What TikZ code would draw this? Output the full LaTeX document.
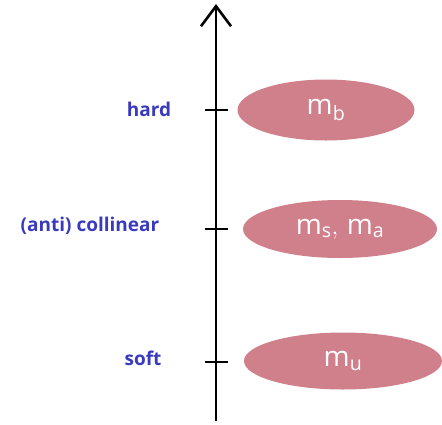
\documentclass[tikz,border=0pt]{standalone}
\usepackage{fontspec}
\setsansfont{Open Sans}
\usetikzlibrary{arrows.meta,positioning,shapes.geometric}
\definecolor{scaleblue}{RGB}{58,58,190}
\definecolor{modepink}{RGB}{208,128,138}
\tikzset{
  scalelabel/.style={font=\sffamily\bfseries\fontsize{19}{22}\selectfont, text=scaleblue},
  modeblob/.style={ellipse, fill=modepink, draw=none, text=white, inner sep=0pt,
    font=\fontsize{28}{32}\selectfont},
  tickmark/.style={line width=2.2pt}
}
\begin{document}
\begin{tikzpicture}[x=1pt, y=-1pt]
\useasboundingbox (0,0) rectangle (442,424);
% axis
\coordinate (bottom) at (216,421);
\coordinate (top) at (216,4);
\draw[line width=2.6pt, -{Straight Barb[length=20pt, width=30pt, line width=2.6pt]}] (bottom) -- (top);
% ticks
\coordinate (thard) at (216,110);
\coordinate (tcoll) at (216,229);
\coordinate (tsoft) at (216,362);
\draw[tickmark] ([xshift=-11pt]thard) -- ([xshift=12pt]thard);
\draw[tickmark] ([xshift=-11pt]tcoll) -- ([xshift=12pt]tcoll);
\draw[tickmark] ([xshift=-11pt]tsoft) -- ([xshift=12pt]tsoft);
% scale labels
\node[scalelabel] (hard) at (149,109) {hard};
\node[scalelabel] (coll) at (90,226) {(anti) collinear};
\node[scalelabel] (soft) at (143,358) {soft};
% modes
\node[modeblob, minimum width=177pt, minimum height=61pt] (mb) at (326,110) {$\mathsf{m}_{\mathsf{b}}$};
\node[modeblob, minimum width=194pt, minimum height=58pt] (msa) at (340,229) {$\mathsf{m}_{\mathsf{s}},\, \mathsf{m}_{\mathsf{a}}$};
\node[modeblob, minimum width=198pt, minimum height=57pt] (mu) at (343,361) {$\mathsf{m}_{\mathsf{u}}$};
\end{tikzpicture}
\end{document}
